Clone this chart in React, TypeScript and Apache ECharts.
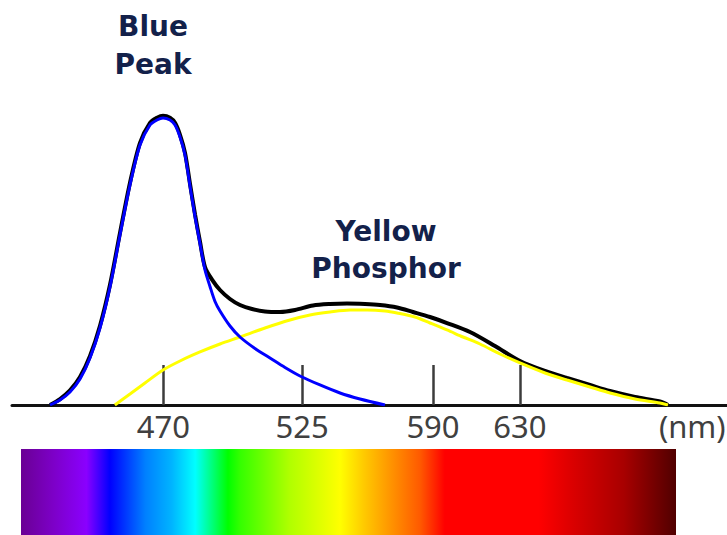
import React, { useEffect, useRef } from "react";
import * as echarts from "echarts";

// Axis units: wavelength-like position (nm)
const tickPositions = [470, 532.2, 591, 630];
const tickLabels = ["470", "525", "590", "630"];
const unitPosition = 707.4;
const unitLabel = "(nm)";

const blueX = [419.06, 423.55, 428.04, 432.53, 437.02, 441.51, 446.0, 450.49, 454.98, 459.47, 463.96, 467.1, 469.8, 472.93, 475.18, 477.42, 479.67, 481.91, 484.16, 486.4, 488.65, 490.89, 493.14, 495.38, 499.87, 504.36, 511.09, 517.83, 524.56, 531.3, 540.28, 549.26, 558.23, 569.46];
const blueY = [0, 1.75, 4.56, 9.12, 16.49, 27.02, 41.4, 59.65, 77.19, 91.23, 98.25, 100.0, 100.7, 100.0, 98.25, 94.04, 87.72, 76.84, 66.14, 56.63, 47.37, 41.58, 36.32, 32.98, 27.72, 23.86, 19.82, 16.49, 13.16, 10.18, 7.02, 4.21, 2.11, 0];

const yellowX = [448.17, 454.98, 461.71, 469.8, 477.42, 486.4, 495.38, 504.36, 515.58, 526.81, 535.79, 544.77, 553.75, 561.38, 569.46, 574.85, 582.93, 589.66, 597.29, 604.47, 612.1, 621.09, 630.07, 641.29, 651.17, 661.49, 670.47, 681.7, 692.92, 696.5];
const yellowY = [0, 3.86, 7.72, 12.28, 15.44, 18.6, 21.4, 23.86, 27.02, 29.82, 31.58, 32.63, 33.33, 33.33, 32.98, 32.28, 30.88, 28.77, 26.32, 23.86, 21.4, 17.89, 14.74, 11.23, 8.77, 6.32, 4.21, 2.11, 0.7, 0];

const totalX = [419.06, 423.55, 428.04, 432.53, 437.02, 441.51, 446.0, 450.49, 454.98, 459.47, 463.96, 467.1, 469.8, 472.93, 475.18, 477.42, 479.67, 481.91, 484.16, 486.4, 488.65, 491.8, 495.38, 499.87, 504.36, 509.75, 515.58, 522.32, 529.05, 537.13, 544.77, 552.4, 560.48, 567.21, 574.85, 582.03, 589.66, 597.29, 607.62, 618.84, 630.07, 641.29, 651.17, 661.49, 670.47, 681.7, 692.92, 696.5];
const totalY = [0, 2.1, 5.1, 9.8, 17.2, 27.8, 42.2, 60.4, 78.0, 92.0, 99.0, 100.8, 101.5, 100.8, 99.0, 94.8, 88.5, 77.6, 66.9, 57.3, 48.4, 44.0, 40.35, 37.2, 35.09, 33.68, 32.81, 32.63, 33.33, 34.91, 35.44, 35.61, 35.44, 35.09, 34.21, 32.63, 30.88, 28.77, 25.61, 20.7, 15.44, 11.93, 9.47, 7.02, 4.91, 2.81, 1.23, 0];

const spectrumStops: [number, string][] = [
  [0, "#6a0094"],
  [0.05, "#7d00c8"],
  [0.1, "#8a00ff"],
  [0.136, "#0000ff"],
  [0.19, "#0080ff"],
  [0.23, "#00b4ff"],
  [0.266, "#00ffff"],
  [0.316, "#00ff00"],
  [0.334, "#33ff00"],
  [0.41, "#b0ff00"],
  [0.487, "#ffff00"],
  [0.525, "#ffc800"],
  [0.563, "#ff9600"],
  [0.609, "#ff5a00"],
  [0.647, "#ff0000"],
  [0.79, "#ff0000"],
  [0.84, "#dc0000"],
  [0.92, "#a80000"],
  [1, "#500000"],
];

const pairs = (xs: number[], ys: number[]) => xs.map((x, i) => [x, ys[i]]);

export default function App() {
  const ref = useRef<HTMLDivElement>(null);
  useEffect(() => {
    if (!ref.current) return;
    const chart = echarts.init(ref.current, null, { renderer: "svg" });
    const labelValues = [...tickPositions, unitPosition];
    const labelTexts = [...tickLabels, unitLabel];
    const titleFont = 'bold 28px "DejaVu Sans"';
    chart.setOption({
      animation: false,
      backgroundColor: "#ffffff",
      grid: { left: 12, right: 0, top: 63, bottom: 130, containLabel: false, outerBoundsMode: "none" },
      xAxis: {
        type: "value",
        min: 402,
        max: 723,
        axisLine: { show: true, lineStyle: { color: "#111111", width: 3 } },
        axisTick: {
          show: true,
          inside: true,
          length: 40,
          customValues: tickPositions,
          lineStyle: { color: "#3c3c3c", width: 2.5 },
        },
        axisLabel: {
          show: true,
          customValues: labelValues,
          margin: 21,
          verticalAlign: "middle",
          fontFamily: "Noto Sans",
          fontSize: 31,
          color: "#404040",
          formatter: (v: number) => {
            let best = 0;
            labelValues.forEach((p, i) => {
              if (Math.abs(p - v) < Math.abs(labelValues[best] - v)) best = i;
            });
            return labelTexts[best];
          },
        },
        splitLine: { show: false },
      },
      yAxis: { type: "value", min: 0, max: 120, show: false, splitLine: { show: false } },
      series: [
        {
          type: "line",
          data: pairs(totalX, totalY),
          showSymbol: false,
          smooth: 0.3,
          lineStyle: { color: "#000000", width: 4 },
          z: 2,
        },
        {
          type: "line",
          data: pairs(yellowX, yellowY),
          showSymbol: false,
          smooth: 0.3,
          lineStyle: { color: "#ffff00", width: 3 },
          z: 3,
        },
        {
          type: "line",
          data: pairs(blueX, blueY),
          showSymbol: false,
          smooth: 0.3,
          lineStyle: { color: "#0000ff", width: 3 },
          z: 4,
        },
      ],
      graphic: [
        {
          type: "rect",
          shape: { x: 21, y: 449, width: 655, height: 86 },
          style: {
            fill: new echarts.graphic.LinearGradient(
              0, 0, 1, 0,
              spectrumStops.map(([offset, color]) => ({ offset, color }))
            ),
          },
        },
        {
          type: "text",
          x: 153,
          y: 26,
          style: { text: "Blue", textAlign: "center", textVerticalAlign: "middle", font: titleFont, fill: "#13214a" },
        },
        {
          type: "text",
          x: 153,
          y: 64,
          style: { text: "Peak", textAlign: "center", textVerticalAlign: "middle", font: titleFont, fill: "#13214a" },
        },
        {
          type: "text",
          x: 386,
          y: 231,
          style: { text: "Yellow", textAlign: "center", textVerticalAlign: "middle", font: titleFont, fill: "#13214a" },
        },
        {
          type: "text",
          x: 386,
          y: 268,
          style: { text: "Phosphor", textAlign: "center", textVerticalAlign: "middle", font: titleFont, fill: "#13214a" },
        },
      ],
    });
    return () => chart.dispose();
  }, []);
  return (
    <div
      ref={ref}
      style={{ position: "fixed", left: 0, top: 0, width: 727, height: 535 }}
    />
  );
}
